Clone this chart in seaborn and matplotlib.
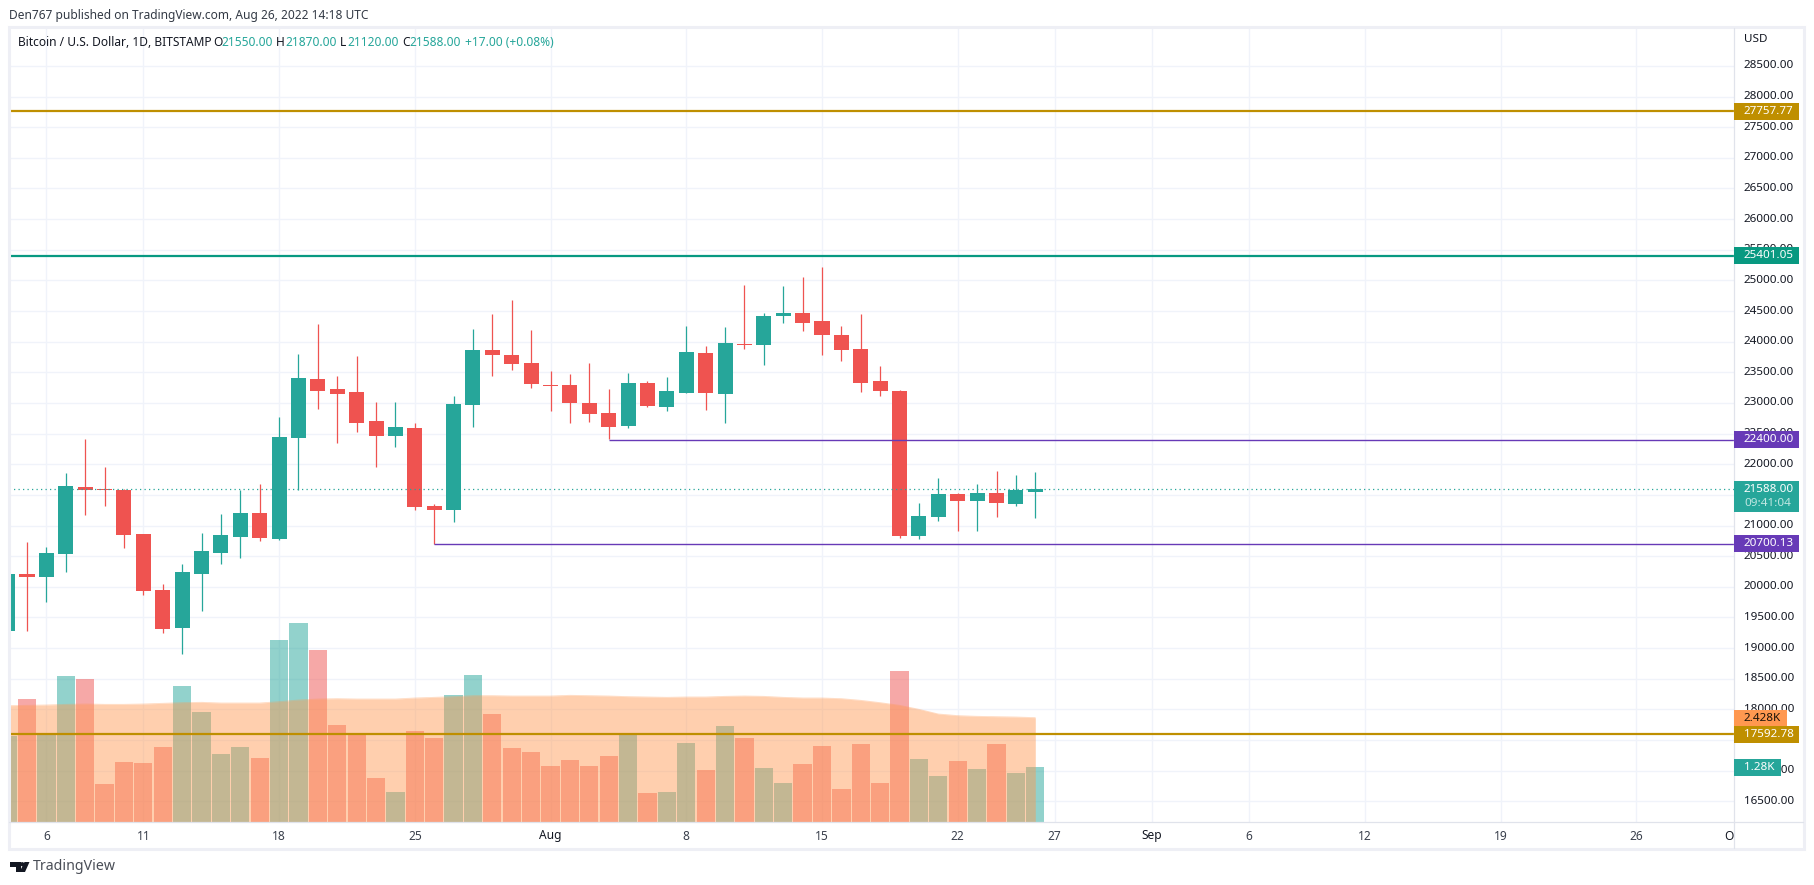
import matplotlib
matplotlib.use("Agg")
import matplotlib.pyplot as plt
import numpy as np
import pandas as pd
import seaborn as sns
from matplotlib.patches import Rectangle, Polygon, Circle

dates = pd.date_range("2022-07-04", "2022-08-26", freq="D")
opens = [19279,20209,20166,20535,21629,21596,21580,20862,19948,19328,20209,20552,20813,21204,20780,22428,23391,23228,23179,22705,22461,22591,21319,21253,22966,23864,23782,23652,23293,23293,23000,22836,22624,23326,22934,23163,23815,23146,23962,23946,24419,24468,24337,24109,23881,23358,23195,20830,21139,21515,21400,21531,21351,21550]
highs = [20209,20731,20650,21857,22412,21955,21596,20862,20046,20372,20878,21188,21580,21678,22771,23799,24288,23440,23766,23015,23015,22673,21351,23113,24207,24451,24680,24190,23521,23473,23652,23228,23489,23358,23424,24256,23929,24239,24925,24468,24908,25055,25218,24256,24452,23603,23212,21368,21776,21531,21678,21890,21825,21870]
lows = [19279,19279,19752,20242,21172,21319,20633,19866,19246,18904,19605,20372,20470,20748,20764,21580,22901,22347,22526,21955,22281,21253,20693,21058,22607,23440,23538,23244,22869,22673,22690,22407,22592,22934,22869,23163,22885,22673,23881,23620,24305,24174,23783,23685,23179,23114,20797,20780,21074,20911,20911,21139,21319,21120]
closes = [20209,20166,20552,21645,21580,21580,20845,19932,19312,20242,20584,20845,21204,20796,22444,23407,23195,23146,22673,22461,22607,21302,21253,22983,23864,23782,23635,23309,23282,23000,22820,22608,23326,22950,23195,23832,23163,23978,23946,24419,24468,24305,24109,23864,23326,23195,20830,21156,21515,21400,21531,21368,21580,21588]
volume_k = [2.001,2.862,2.025,3.398,3.328,0.884,1.396,1.373,1.745,3.165,2.560,1.582,1.745,1.489,4.235,4.631,4.003,2.257,2.048,1.024,0.698,2.118,1.955,2.955,3.421,2.513,1.722,1.629,1.303,1.443,1.303,1.536,2.048,0.675,0.698,1.838,1.210,2.234,1.955,1.257,0.908,1.350,1.769,0.768,1.815,0.908,3.514,1.466,1.070,1.420,1.233,1.815,1.140,1.280]
volume_ma_k = [2.707,2.715,2.723,2.738,2.746,2.738,2.738,2.746,2.762,2.777,2.785,2.769,2.769,2.769,2.800,2.839,2.862,2.870,2.862,2.862,2.862,2.886,2.901,2.917,2.940,2.940,2.932,2.932,2.932,2.948,2.940,2.932,2.917,2.909,2.901,2.909,2.909,2.924,2.932,2.924,2.901,2.886,2.886,2.870,2.831,2.777,2.715,2.622,2.513,2.475,2.459,2.451,2.443,2.428]
price_ticks = list(range(16500, 29000, 500))
time_tick_dates = ["2022-07-06","2022-07-11","2022-07-18","2022-07-25","2022-08-01","2022-08-08","2022-08-15","2022-08-22","2022-08-27","2022-09-01","2022-09-06","2022-09-12","2022-09-19","2022-09-26"]
time_tick_labels = ["6","11","18","25","Aug","8","15","22","27","Sep","6","12","19","26"]
level_gold_top = 27757.77
level_green = 25401.05
level_purple_high = 22400.00
level_purple_low = 20700.13
level_gold_low = 17592.78
last_price = 21588.00

GREEN, RED = "#26a69a", "#ef5350"
GOLD, TEAL, PURPLE = "#bf8f00", "#089981", "#673ab7"
ORANGE = "#ff9850"
GRID = "#f0f3fa"
TXT = "#131722"
FONT = "Noto Sans"

sns.set_theme(style="white")
plt.rcParams["font.family"] = [FONT, "DejaVu Sans"]
W, H = 1814, 885
fig = plt.figure(figsize=(W / 100, H / 100), dpi=100, facecolor="white")

# plot region, pixels
L, R, T, B = 9.0, 1734.0, 28.0, 822.0
def make_axes(z):
    a = fig.add_axes([L / W, 1 - B / H, (R - L) / W, (B - T) / H], zorder=z)
    a.patch.set_visible(False)
    for s in a.spines.values():
        s.set_visible(False)
    return a

PX_PER_USD = 0.06129
PX_PER_DAY = 19.39
X0 = 46.4
to_day = lambda x: (x - X0) / PX_PER_DAY
price_ylim = (28000 - (B - 96.5) / PX_PER_USD, 28000 + (96.5 - T) / PX_PER_USD)
xlim = (to_day(L), to_day(R))
y_px = lambda p: 96.5 + (28000 - p) * PX_PER_USD
x_px = lambda d: X0 + d * PX_PER_DAY

days = np.array((dates - pd.Timestamp("2022-07-06")).days)
tick_days = np.array((pd.to_datetime(time_tick_dates) - pd.Timestamp("2022-07-06")).days)
oct_day = to_day(R)

# grid layer
ax_grid = make_axes(1)
ax_grid.set_xlim(xlim); ax_grid.set_ylim(price_ylim)
ax_grid.set_yticks(price_ticks); ax_grid.set_xticks(tick_days)
ax_grid.grid(True, color=GRID, lw=1.0)
ax_grid.tick_params(left=False, bottom=False, labelleft=False, labelbottom=False)

# volume layer
ax_vol = make_axes(2)
df = pd.DataFrame({"day": days, "vol": volume_k, "ma": volume_ma_k,
                   "dir": ["up" if c >= o else "down" for o, c in zip(opens, closes)]})
sns.barplot(data=df, x="day", y="vol", hue="dir", native_scale=True, dodge=False,
            palette={"up": GREEN, "down": RED}, width=0.94, alpha=0.5, saturation=1,
            errorbar=None, legend=False, linewidth=0, ax=ax_vol)
ax_vol.fill_between(df["day"], 0, df["ma"], color=ORANGE, alpha=0.46, lw=0, zorder=4)
sns.lineplot(data=df, x="day", y="ma", color=ORANGE, lw=0.6, alpha=0.35, ax=ax_vol, zorder=4)
ax_vol.set_xlim(xlim)
ax_vol.set_ylim(0, (B - T) * 0.02327)
ax_vol.set_xlabel(""); ax_vol.set_ylabel("")
ax_vol.tick_params(left=False, bottom=False, labelleft=False, labelbottom=False)

# price layer
ax = make_axes(3)
ax.set_xlim(xlim); ax.set_ylim(price_ylim)
ax.tick_params(left=False, bottom=False, labelleft=False, labelbottom=False)
ax.hlines(level_gold_top, *xlim, color=GOLD, lw=1.6, zorder=2)
ax.hlines(level_green, *xlim, color=TEAL, lw=1.6, zorder=2)
ax.hlines(level_gold_low, *xlim, color=GOLD, lw=1.6, zorder=2)
ax.hlines(level_purple_high, 29, xlim[1], color=PURPLE, lw=1.0, zorder=4)
ax.hlines(level_purple_low, 20, xlim[1], color=PURPLE, lw=1.0, zorder=4)
cols = [GREEN if c >= o else RED for o, c in zip(opens, closes)]
ax.vlines(days, lows, highs, colors=cols, lw=0.9, zorder=3)
ax.bar(days, np.array(closes) - np.array(opens), bottom=opens, width=0.775, color=cols, lw=0, zorder=3)
ax.plot(xlim, [last_price, last_price], color=GREEN, lw=0.9, ls=(0, (1, 2.6)), zorder=5)

# chrome overlay in pixels
ov = fig.add_axes([0, 0, 1, 1], zorder=5)
ov.set_xlim(0, W); ov.set_ylim(H, 0); ov.axis("off")
BORDER = "#eeeff5"
ov.add_patch(Rectangle((9, 27), 1795, 822, fill=False, ec=BORDER, lw=2.2))
ov.plot([R, R], [28, 848], color="#e0e3eb", lw=0.9)
ov.plot([L, 1803], [B, B], color="#e0e3eb", lw=0.9)

def t(x, y, s, size=8.5, color=TXT, ha="left", **kw):
    return ov.text(x, y, s, fontsize=size, color=color, ha=ha, va="center", **kw)

# header
t(9, 15, "Den767 published on TradingView.com, Aug 26, 2022 14:18 UTC", color="#333a45", size=8.6)
t(18, 42, "Bitcoin / U.S. Dollar, 1D, BITSTAMP", size=8.6)
for lx, vx, lab, val in [(213, 221, "O", "21550.00"), (276, 285, "H", "21870.00"),
                         (340, 347, "L", "21120.00"), (402, 409.5, "C", "21588.00")]:
    t(lx, 42, lab, size=8.6)
    t(vx, 42, val, color=GREEN, size=8.6)
t(464.6, 42, "+17.00 (+0.08%)", color=GREEN, size=8.6)

# right axis
t(1744, 40, "USD", size=8.4)
for p in price_ticks:
    t(1744, y_px(p), f"{p:.2f}", size=8.4)

def badge(y0, y1, x1, color, text, tcolor="white", weight="normal"):
    ov.add_patch(Rectangle((R, y0), x1 - R, y1 - y0, fc=color, ec="none", zorder=6))
    return ov.text(1744, (y0 + y1) / 2, text, fontsize=8.4, color=tcolor, va="center", zorder=7, fontweight=weight)

def level_badge(p, color):
    c = y_px(p)
    badge(c - 8.5, c + 8.5, 1799, color, f"{p:.2f}", weight="medium")

level_badge(level_gold_top, GOLD)
level_badge(level_green, TEAL)
level_badge(level_purple_high, PURPLE)
level_badge(level_purple_low, PURPLE)
ov.add_patch(Rectangle((R, 481), 1799 - R, 31, fc=GREEN, ec="none", zorder=6))
ov.text(1744, 489.5, f"{last_price:.2f}", fontsize=8.4, color="white", va="center", zorder=7)
ov.text(1744, 504, "09:41:04", fontsize=8.4, color="#bfe6e1", va="center", zorder=7)
c = y_px(volume_ma_k[-1]) * 0 + 718.5
badge(710, 727, 1787, ORANGE, "2.428K", tcolor="#1a1208")
level_badge(level_gold_low, GOLD)
badge(759, 776, 1781, GREEN, "1.28K")

# time axis
for d, lab in zip(tick_days, time_tick_labels):
    t(x_px(d), 836, lab, ha="center", size=8.6, color=TXT if lab in ("Aug", "Sep") else "#3a404c")
oc = t(R, 836, "Oct", ha="center", size=8.6)
oc.set_clip_path(Rectangle((R - 40, 825), 40, 22, transform=ov.transData))
oc.set_clip_on(True)

# logo
LOGO = "#131722"
ov.add_patch(Polygon([(10, 862), (20.5, 862), (20.5, 872), (15.5, 872), (15.5, 866.5), (10, 866.5)], fc=LOGO, ec="none"))
ov.add_patch(Circle((22.3, 864.2), 2.1, fc=LOGO, ec="none"))
ov.add_patch(Polygon([(24.5, 862), (29.5, 862), (25, 872), (19.5, 872)], fc=LOGO, ec="none"))
t(33, 867, "TradingView", size=10.2, color="#4a4e57")

fig.savefig("out.png", dpi=100, facecolor="white")
